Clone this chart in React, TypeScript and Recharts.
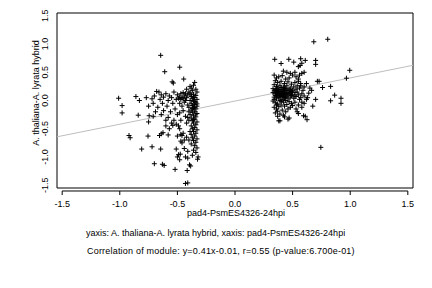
import React from 'react';
import { ScatterChart, Scatter, XAxis, YAxis, ReferenceLine, ReferenceArea } from 'recharts';

const FONT = 'Liberation Sans, Arial, Helvetica, sans-serif';

// axis ticks and ranges
const TICKS = [-1.5, -1.0, -0.5, 0.0, 0.5, 1.0, 1.5];
const X_DOMAIN = [-1.545, 1.545];
const Y_DOMAIN = [-1.55, 1.55];
const AXIS_LINE_Y = -1.603;

// fit from the caption
const SLOPE = 0.41;
const INTERCEPT = -0.01;

const X_TITLE = 'pad4-PsmES4326-24hpi';
const Y_TITLE = 'A. thaliana-A. lyrata hybrid';
const SUBTITLES = [
  'yaxis: A. thaliana-A. lyrata hybrid, xaxis: pad4-PsmES4326-24hpi',
  'Correlation of module: y=0.41x-0.01, r=0.55 (p-value:6.700e-01)',
];

// left cluster (x around -1.0 .. -0.33)
const leftSparse = [
  [-1.01, 0.04], [-0.98, -0.09], [-0.98, -0.22], [-0.86, 0.07], [-0.83, 0.0], [-0.84, -0.26],
  [-0.92, -0.62], [-0.91, -0.66], [-0.81, -0.86], [-0.77, 0.05], [-0.75, -0.1], [-0.745, -0.27],
  [-0.75, -0.38], [-0.755, -0.63], [-0.72, -0.82], [-0.7, -1.12], [-0.645, 0.8], [-0.61, 0.51],
  [-0.48, 0.59], [-0.445, 0.38], [-0.545, 0.33], [-0.535, 0.31], [-0.645, -0.86], [-0.63, -1.13],
  [-0.615, -1.15], [-0.52, -1.22], [-0.43, -1.47], [-0.41, -1.46], [-0.415, -1.24], [-0.395, -1.14],
  [-0.385, -1.16], [-0.325, -1.04], [-0.49, -0.96], [-0.475, -0.95], [-0.48, -1.05], [-0.58, -0.61],
  [-0.655, -0.62], [-0.64, -0.59], [-0.625, -0.57], [-0.48, -0.5], [-0.46, -0.62], [-0.5, -0.63],
  [-0.47, -0.72], [-0.54, -0.44], [-0.6, -0.35], [-0.51, -0.86], [-0.5, -1.0], [-0.41, -1.02],
];

const leftMid = [
  [-0.72, 0.03], [-0.7, 0.08], [-0.71, -0.05], [-0.68, 0.16], [-0.66, 0.15], [-0.67, -0.12],
  [-0.69, -0.2], [-0.71, -0.28], [-0.65, 0.02], [-0.64, 0.1], [-0.62, 0.06], [-0.63, -0.05],
  [-0.62, -0.18], [-0.64, -0.25], [-0.6, 0.12], [-0.58, 0.0], [-0.59, -0.1], [-0.57, 0.08],
  [-0.56, -0.2], [-0.58, -0.3], [-0.55, 0.05], [-0.54, -0.05], [-0.53, 0.15], [-0.52, -0.15],
  [-0.53, -0.35], [-0.55, -0.4], [-0.51, -0.42], [-0.6, -0.45], [-0.57, -0.5], [-0.5, 0.1],
  [-0.5, -0.25], [-0.51, 0.02],
];

const leftDense = [
  [-0.49, 0.04], [-0.48, 0.06], [-0.47, 0.02], [-0.46, 0.05], [-0.45, 0.03], [-0.44, 0.08],
  [-0.43, 0.0], [-0.47, 0.12], [-0.45, 0.14], [-0.43, 0.12], [-0.48, -0.05], [-0.46, -0.1],
  [-0.44, -0.03], [-0.42, 0.05], [-0.41, -0.08], [-0.45, -0.18], [-0.48, -0.22], [-0.43, -0.28],
  [-0.47, -0.6], [-0.45, -0.58], [-0.44, -0.7], [-0.46, -0.75], [-0.42, -0.65], [-0.49, -0.45],
  [-0.47, -0.35], [-0.42, -0.4], [-0.44, -0.85], [-0.41, -0.9], [-0.43, -1.0], [-0.42, 0.2],
  [-0.4, 0.15],
];

const leftColumn = [
  [-0.35, 0.32], [-0.36, 0.27], [-0.38, 0.22], [-0.34, 0.2], [-0.37, 0.18], [-0.33, 0.15],
  [-0.39, 0.13], [-0.36, 0.11], [-0.34, 0.09], [-0.38, 0.07], [-0.35, 0.05], [-0.37, 0.03],
  [-0.33, 0.02], [-0.39, 0.0], [-0.36, -0.01], [-0.34, -0.03], [-0.38, -0.05], [-0.35, -0.07],
  [-0.37, -0.09], [-0.33, -0.1], [-0.4, -0.12], [-0.36, -0.13], [-0.34, -0.15], [-0.38, -0.17],
  [-0.35, -0.19], [-0.37, -0.21], [-0.33, -0.23], [-0.39, -0.25], [-0.36, -0.27], [-0.34, -0.29],
  [-0.38, -0.31], [-0.35, -0.33], [-0.37, -0.36], [-0.33, -0.38], [-0.36, -0.4], [-0.34, -0.43],
  [-0.38, -0.45], [-0.35, -0.48], [-0.37, -0.5], [-0.33, -0.52], [-0.36, -0.55], [-0.34, -0.58],
  [-0.38, -0.6], [-0.35, -0.63], [-0.37, -0.66], [-0.33, -0.68], [-0.36, -0.71], [-0.34, -0.74],
  [-0.38, -0.77], [-0.35, -0.8], [-0.33, -0.84], [-0.36, -0.88], [-0.34, -0.92], [-0.37, -0.97],
  [-0.32, -1.0], [-0.39, 0.25], [-0.41, 0.1], [-0.4, -0.2], [-0.4, -0.35], [-0.39, -0.55],
  [-0.4, -0.7], [-0.41, -0.3], [-0.36, 0.06], [-0.35, -0.02], [-0.37, -0.14], [-0.34, -0.24],
  [-0.36, -0.34], [-0.35, -0.12], [-0.38, 0.1], [-0.33, -0.06],
];

// right cluster (x around 0.33 .. 1.0)
const rightSparse = [
  [0.684, 1.04], [0.805, 1.085], [0.345, 0.73], [0.4, 0.655], [0.467, 0.73], [0.51, 0.68],
  [0.57, 0.74], [0.58, 0.66], [0.61, 0.71], [0.7, 0.71], [0.7, 0.64], [0.55, 0.6],
  [0.565, 0.62], [0.996, 0.535], [0.967, 0.395], [0.715, 0.34], [0.73, 0.34], [0.76, 0.23],
  [0.83, 0.25], [0.865, 0.095], [0.92, 0.04], [0.92, -0.05], [0.83, -0.005], [0.7, 0.02],
  [0.675, -0.1], [0.665, 0.18], [0.63, 0.05], [0.58, -0.12], [0.595, -0.27], [0.61, -0.28],
  [0.625, -0.34], [0.47, -0.31], [0.46, -0.33], [0.43, -0.29], [0.38, -0.36], [0.39, -0.36],
  [0.37, -0.28], [0.745, -0.83], [0.54, -0.2], [0.55, -0.23],
];

const rightCore = [
  [0.34, 0.45], [0.36, 0.4], [0.38, 0.42], [0.41, 0.44], [0.44, 0.38], [0.47, 0.4],
  [0.5, 0.45], [0.52, 0.5], [0.53, 0.42], [0.55, 0.38], [0.57, 0.3], [0.35, 0.35],
  [0.37, 0.32], [0.4, 0.34], [0.43, 0.3], [0.46, 0.33], [0.49, 0.29], [0.52, 0.32],
  [0.54, 0.26], [0.34, 0.28], [0.36, 0.25], [0.39, 0.27], [0.42, 0.24], [0.45, 0.26],
  [0.48, 0.22], [0.51, 0.24], [0.53, 0.2], [0.56, 0.22], [0.59, 0.18], [0.33, 0.21],
  [0.35, 0.19], [0.37, 0.22], [0.38, 0.17], [0.4, 0.2], [0.41, 0.15], [0.43, 0.18],
  [0.44, 0.13], [0.46, 0.17], [0.47, 0.12], [0.49, 0.16], [0.5, 0.11], [0.52, 0.14],
  [0.55, 0.1], [0.58, 0.12], [0.33, 0.14], [0.35, 0.12], [0.36, 0.15], [0.37, 0.09],
  [0.39, 0.11], [0.4, 0.07], [0.42, 0.1], [0.43, 0.05], [0.45, 0.08], [0.46, 0.03],
  [0.48, 0.06], [0.51, 0.04], [0.53, 0.07], [0.56, 0.02], [0.34, 0.06], [0.36, 0.03],
  [0.38, 0.05], [0.39, 0.0], [0.41, 0.02], [0.42, -0.03], [0.44, 0.0], [0.47, -0.02],
  [0.49, -0.05], [0.52, -0.03], [0.33, -0.01], [0.35, -0.04], [0.37, -0.06], [0.4, -0.08],
  [0.43, -0.1], [0.45, -0.07], [0.48, -0.12], [0.5, -0.09], [0.34, -0.12], [0.36, -0.15],
  [0.38, -0.11], [0.41, -0.17], [0.44, -0.2], [0.46, -0.15], [0.35, -0.22], [0.37, -0.19],
  [0.39, -0.24], [0.42, -0.26], [0.36, 0.18], [0.38, 0.13], [0.4, 0.23], [0.42, 0.19],
  [0.44, 0.22], [0.39, 0.08], [0.41, 0.12], [0.43, 0.14], [0.37, 0.16], [0.45, 0.18],
  [0.47, 0.2], [0.49, 0.09], [0.36, 0.08], [0.34, 0.17], [0.4, 0.16], [0.44, 0.06],
  [0.38, 0.19], [0.42, 0.07], [0.46, 0.1], [0.35, 0.09], [0.48, 0.14], [0.37, 0.12],
  [0.41, 0.09], [0.39, 0.15], [0.43, 0.21], [0.45, 0.12], [0.34, 0.02], [0.36, -0.08],
  [0.4, -0.02], [0.5, 0.18], [0.52, 0.08], [0.54, 0.15], [0.57, 0.05], [0.6, 0.08],
  [0.62, 0.02], [0.6, -0.05], [0.58, -0.03], [0.55, -0.08], [0.53, -0.15], [0.57, 0.26],
  [0.6, 0.24], [0.62, 0.3], [0.64, 0.13], [0.56, 0.45], [0.58, 0.48], [0.6, 0.5],
  [0.48, 0.48], [0.45, 0.5], [0.42, 0.52], [0.55, 0.34], [0.65, 0.22],
];

const toPoints = (pairs: number[][]) => pairs.map(([x, y]) => ({ x, y }));

const leftPoints = toPoints([...leftSparse, ...leftMid, ...leftDense, ...leftColumn]);
const rightPoints = toPoints([...rightSparse, ...rightCore]);

const fitAt = (x: number) => SLOPE * x + INTERCEPT;

function PlusMark(props: any) {
  const { cx, cy } = props;
  if (cx == null || cy == null) return null;
  return <path d={`M${cx - 2.5},${cy}h5M${cx},${cy - 2.5}v5`} stroke="#000" strokeWidth={1} fill="none" />;
}

function XTick(props: any) {
  const { x, y, payload } = props;
  return (
    <g>
      <line x1={x} x2={x} y1={y + 3} y2={y + 7} stroke="#000" />
      <text x={x} y={y + 19} textAnchor="middle" fontSize={9} fontFamily={FONT} fill="#000">
        {Number(payload.value).toFixed(1)}
      </text>
    </g>
  );
}

function YTick(props: any) {
  const { x, y, payload } = props;
  return (
    <text
      transform={`translate(${x - 9},${y}) rotate(-90)`}
      textAnchor="middle"
      fontSize={9}
      fontFamily={FONT}
      fill="#000"
    >
      {Number(payload.value).toFixed(1)}
    </text>
  );
}

export default function App() {
  return (
    <div style={{ position: 'fixed', left: 0, top: 0, width: 432, height: 288, background: '#fff' }}>
      <ScatterChart width={432} height={288} margin={{ top: 13, right: 19, bottom: 70, left: 27 }}>
        <XAxis
          type="number"
          dataKey="x"
          domain={X_DOMAIN}
          ticks={TICKS}
          allowDataOverflow
          height={30}
          axisLine={false}
          tickLine={false}
          tickSize={0}
          tickMargin={0}
          tick={<XTick />}
          interval={0}
        />
        <YAxis
          type="number"
          dataKey="y"
          domain={Y_DOMAIN}
          ticks={TICKS}
          allowDataOverflow
          width={30}
          axisLine={false}
          tickLine={false}
          tickSize={0}
          tickMargin={0}
          tick={<YTick />}
          interval={0}
        />
        <ReferenceArea
          x1={X_DOMAIN[0]}
          x2={X_DOMAIN[1]}
          y1={Y_DOMAIN[0]}
          y2={Y_DOMAIN[1]}
          fill="none"
          fillOpacity={0}
          stroke="#000"
          strokeWidth={1}
        />
        <ReferenceLine
          segment={[
            { x: TICKS[0], y: AXIS_LINE_Y },
            { x: TICKS[TICKS.length - 1], y: AXIS_LINE_Y },
          ]}
          ifOverflow="visible"
          stroke="#000"
          strokeWidth={1}
        />
        <ReferenceLine
          segment={[
            { x: X_DOMAIN[0], y: fitAt(X_DOMAIN[0]) },
            { x: X_DOMAIN[1], y: fitAt(X_DOMAIN[1]) },
          ]}
          stroke="#bebebe"
          strokeWidth={1}
        />
        <Scatter data={leftPoints} shape={<PlusMark />} isAnimationActive={false} />
        <Scatter data={rightPoints} shape={<PlusMark />} isAnimationActive={false} />
      </ScatterChart>
      <svg
        width={432}
        height={288}
        style={{ position: 'absolute', left: 0, top: 0, pointerEvents: 'none' }}
        fontFamily={FONT}
        fontSize={9}
        fill="#000"
      >
        <text x={236} y={216} textAnchor="middle">{X_TITLE}</text>
        <text x={86} y={236}>{SUBTITLES[0]}</text>
        <text x={87} y={254} letterSpacing={0.2}>{SUBTITLES[1]}</text>
        <text transform="translate(39,93) rotate(-90)" textAnchor="middle">{Y_TITLE}</text>
      </svg>
    </div>
  );
}
